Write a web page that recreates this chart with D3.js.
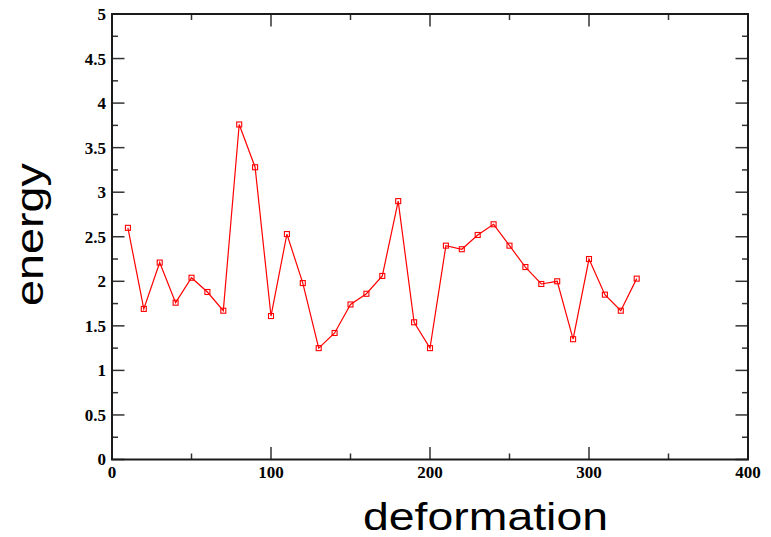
<!DOCTYPE html>
<html>
<head>
<meta charset="utf-8">
<script src="https://cdn.jsdelivr.net/npm/d3@7"></script>
<style>
  html, body { margin: 0; padding: 0; background: #fff; }
  svg { display: block; }
  .tick-label { font-family: "Liberation Serif", "Times New Roman", serif; font-weight: bold; font-size: 17px; fill: #000; }
  .axis-title { font-family: "Liberation Sans", Arial, sans-serif; font-size: 38px; fill: #000; }
</style>
</head>
<body>
<svg id="chart" width="771" height="537"></svg>
<script>
// deformation step and the energy measured at each step
const deformation = [10, 20, 30, 40, 50, 60, 70, 80, 90, 100, 110, 120, 130, 140, 150, 160, 170,
                     180, 190, 200, 210, 220, 230, 240, 250, 260, 270, 280, 290, 300, 310, 320, 330];
const energy = [2.60, 1.69, 2.21, 1.76, 2.04, 1.88, 1.67, 3.76, 3.28, 1.61, 2.53, 1.98, 1.25, 1.42, 1.74, 1.86, 2.06,
                2.90, 1.54, 1.25, 2.40, 2.36, 2.52, 2.64, 2.40, 2.16, 1.97, 2.00, 1.35, 2.25, 1.85, 1.67, 2.03];

const xMajorTicks = [0, 100, 200, 300, 400];
const xMinorTicks = [50, 150, 250, 350];
const yMajorTicks = [0, 0.5, 1, 1.5, 2, 2.5, 3, 3.5, 4, 4.5, 5];
const yMinorTicks = [0.25, 0.75, 1.25, 1.75, 2.25, 2.75, 3.25, 3.75, 4.25, 4.75];
const yTickText = ["0", "0.5", "1", "1.5", "2", "2.5", "3", "3.5", "4", "4.5", "5"];

const plotLeft = 112, plotRight = 748, plotTop = 14, plotBottom = 459.5;
const svg = d3.select("#chart");

const x = d3.scaleLinear().domain([0, 400]).range([plotLeft, plotRight]);
const y = d3.scaleLinear().domain([0, 5]).range([plotBottom, plotTop]);

const frameColor = "#1a1a1a";
const tickColor = "#333";
const majorLen = 12.5, minorLen = 6;

// inward ticks on all four sides
const g = svg.append("g").attr("stroke", tickColor).attr("stroke-width", 1.5);
function xTicks(vals, len) {
  vals.forEach(v => {
    g.append("line").attr("x1", x(v)).attr("x2", x(v)).attr("y1", plotBottom).attr("y2", plotBottom - len);
    g.append("line").attr("x1", x(v)).attr("x2", x(v)).attr("y1", plotTop).attr("y2", plotTop + len);
  });
}
function yTicks(vals, len) {
  vals.forEach(v => {
    g.append("line").attr("y1", y(v)).attr("y2", y(v)).attr("x1", plotLeft).attr("x2", plotLeft + len);
    g.append("line").attr("y1", y(v)).attr("y2", y(v)).attr("x1", plotRight).attr("x2", plotRight - len);
  });
}
xTicks(xMajorTicks, majorLen);
xTicks(xMinorTicks, minorLen);
yTicks(yMajorTicks, majorLen);
yTicks(yMinorTicks, minorLen);

// frame
svg.append("rect")
  .attr("x", plotLeft).attr("y", plotTop)
  .attr("width", plotRight - plotLeft).attr("height", plotBottom - plotTop)
  .attr("fill", "none").attr("stroke", frameColor).attr("stroke-width", 2);

// tick labels
svg.append("g").selectAll("text").data(xMajorTicks).join("text")
  .attr("class", "tick-label")
  .attr("x", d => x(d)).attr("y", 478)
  .attr("text-anchor", "middle")
  .text(d => d);

svg.append("g").selectAll("text").data(yMajorTicks).join("text")
  .attr("class", "tick-label")
  .attr("x", 106).attr("y", d => y(d))
  .attr("dy", "0.35em")
  .attr("text-anchor", "end")
  .text((d, i) => yTickText[i]);

// series line and open square markers
const pts = deformation.map((d, i) => [d, energy[i]]);
svg.append("path")
  .datum(pts)
  .attr("fill", "none")
  .attr("stroke", "#ff0000")
  .attr("stroke-width", 1.2)
  .attr("d", d3.line().x(d => x(d[0])).y(d => y(d[1])));

const s = 5;
svg.append("g").selectAll("rect").data(pts).join("rect")
  .attr("x", d => x(d[0]) - s / 2).attr("y", d => y(d[1]) - s / 2)
  .attr("width", s).attr("height", s)
  .attr("fill", "none")
  .attr("stroke", "#ff0000")
  .attr("stroke-width", 1.1);

// axis titles
svg.append("text")
  .attr("class", "axis-title")
  .attr("x", 485.5).attr("y", 530)
  .attr("text-anchor", "middle")
  .attr("textLength", 245)
  .attr("lengthAdjust", "spacingAndGlyphs")
  .text("deformation");

svg.append("text")
  .attr("class", "axis-title")
  .attr("transform", "translate(43,234.5) rotate(-90)")
  .attr("text-anchor", "middle")
  .attr("textLength", 143)
  .attr("lengthAdjust", "spacingAndGlyphs")
  .text("energy");
</script>
</body>
</html>
